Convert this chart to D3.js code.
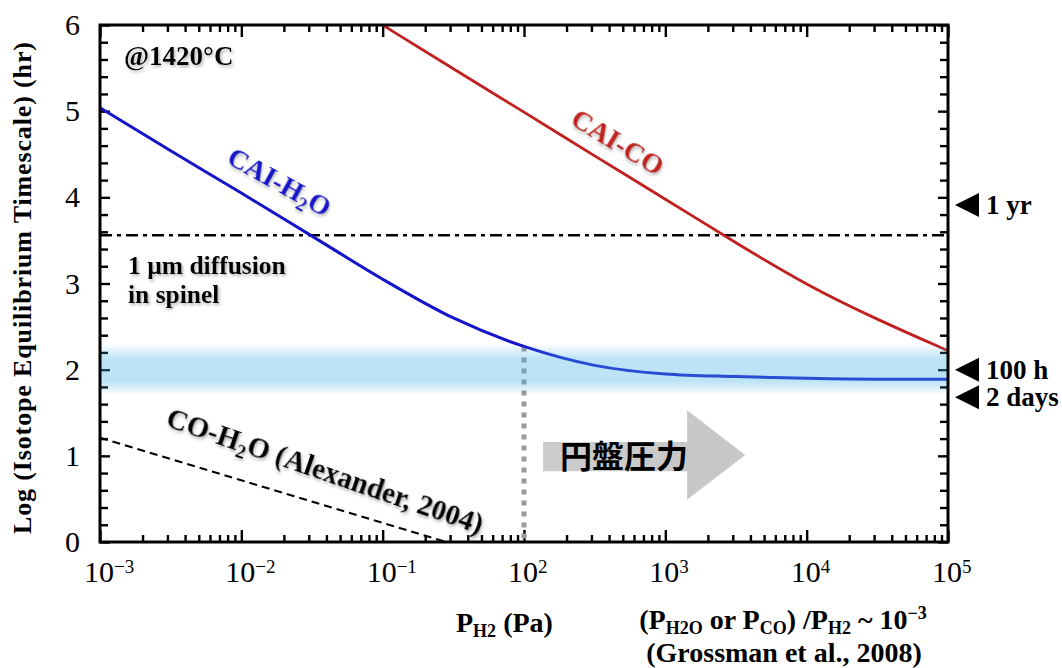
<!DOCTYPE html>
<html>
<head>
<meta charset="utf-8">
<script src="https://cdn.jsdelivr.net/npm/d3@7"></script>
<style>
  html, body { margin: 0; padding: 0; background: #fff; }
  svg { display: block; }
  text { font-family: "Liberation Serif", "Times New Roman", serif; }
</style>
</head>
<body>
<svg id="chart" width="1062" height="668"></svg>
<script>
// ---------------- data ----------------
// x positions are log10 of the axis variable (decade index along the axis)
const logP_H2O = [-3, -2.5, -2, -1.5, -1, -0.5, 0, 0.5, 1, 1.5, 2, 2.5, 3];
const caiH2O   = [5.04, 4.54, 4.05, 3.55, 3.05, 2.60, 2.27, 2.05, 1.95, 1.92, 1.90, 1.89, 1.89];

const logP_CO  = [-1, -0.5, 0, 0.5, 1, 1.5, 2, 2.5, 3];
const caiCO    = [6.00, 5.49, 4.99, 4.48, 3.98, 3.47, 2.98, 2.58, 2.22];

const logP_Alex = [-3, -0.55];
const coH2O     = [1.21, 0.0];

const diffusionSpinel = 3.56;          // 1 µm diffusion in spinel (log hr)
const bandCenter = 2.0, bandHalf = 0.3; // light-blue band
const diskLogP = 0;                    // gray dotted guide position

const xTickLogs  = [-3, -2, -1, 0, 1, 2, 3];
const xTickBase  = ["10", "10", "10", "10", "10", "10", "10"];
const xTickExp   = ["\u22123", "\u22122", "\u22121", "2", "3", "4", "5"];
const yTicks     = [0, 1, 2, 3, 4, 5, 6];

const markerLabels = ["1 yr", "100 h", "2 days"];
const markerValues = [3.91, 2.0, 1.68];

// arrow annotation (in data units)
const arrowLog = { start: 0.135, neck: 1.154, tip: 1.565 };
const arrowVal = { bodyTop: 1.16, bodyBot: 0.82, headTop: 1.53, headBot: 0.49, tip: 1.01 };

// ---------------- layout ----------------
const L = 100, R = 948, T = 25, B = 542;
const svg = d3.select("#chart");

const x = d3.scaleLog().domain([1e-3, 1e3]).range([L, R]);
const y = d3.scaleLinear().domain([0, 6]).range([B, T]);
const xp = lg => x(Math.pow(10, lg));

// defs
const defs = svg.append("defs");
const grad = defs.append("linearGradient").attr("id", "bandGrad")
  .attr("x1", 0).attr("y1", 0).attr("x2", 0).attr("y2", 1);
[[0, 0], [0.28, 0.36], [0.72, 0.36], [1, 0]].forEach(([o, a]) =>
  grad.append("stop").attr("offset", o).attr("stop-color", "#45b2e5").attr("stop-opacity", a));

const shadow = defs.append("filter").attr("id", "shadow")
  .attr("x", "-10%").attr("y", "-30%").attr("width", "130%").attr("height", "170%");
shadow.append("feDropShadow").attr("dx", 1.5).attr("dy", 2).attr("stdDeviation", 1.6)
  .attr("flood-color", "#777").attr("flood-opacity", 0.55);

const arrowGrad = defs.append("linearGradient").attr("id", "arrowGrad")
  .attr("x1", 0).attr("y1", 0).attr("x2", 1).attr("y2", 0);
arrowGrad.append("stop").attr("offset", 0).attr("stop-color", "#cdcdcd");
arrowGrad.append("stop").attr("offset", 1).attr("stop-color", "#c6c6c6");

// ---------------- ticks ----------------
const minorX = [];
for (let e = -3; e < 3; e++) for (let m = 2; m <= 9; m++) minorX.push(m * Math.pow(10, e));
const majorX = xTickLogs.map(d => Math.pow(10, d));
const minorY = d3.range(0, 6.0001, 0.2).map(v => +v.toFixed(1)).filter(v => !yTicks.includes(v));

function styleAxis(g) {
  g.select(".domain").remove();
  g.selectAll("line").attr("stroke", "#000").attr("stroke-width", 2.4);
}
svg.append("g").attr("transform", `translate(0,${B})`)
  .call(d3.axisBottom(x).tickValues(minorX).tickSize(-7).tickFormat("")).call(styleAxis);
svg.append("g").attr("transform", `translate(0,${B})`)
  .call(d3.axisBottom(x).tickValues(majorX).tickSize(-12).tickFormat("")).call(styleAxis);
svg.append("g").attr("transform", `translate(0,${T})`)
  .call(d3.axisTop(x).tickValues(minorX).tickSize(-7).tickFormat("")).call(styleAxis);
svg.append("g").attr("transform", `translate(0,${T})`)
  .call(d3.axisTop(x).tickValues(majorX).tickSize(-12).tickFormat("")).call(styleAxis);
svg.append("g").attr("transform", `translate(${L},0)`)
  .call(d3.axisLeft(y).tickValues(minorY).tickSize(-8).tickFormat("")).call(styleAxis);
svg.append("g").attr("transform", `translate(${L},0)`)
  .call(d3.axisLeft(y).tickValues(yTicks).tickSize(-10).tickFormat("")).call(styleAxis);
svg.append("g").attr("transform", `translate(${R},0)`)
  .call(d3.axisRight(y).tickValues(minorY).tickSize(-8).tickFormat("")).call(styleAxis);
svg.append("g").attr("transform", `translate(${R},0)`)
  .call(d3.axisRight(y).tickValues(yTicks).tickSize(-10).tickFormat("")).call(styleAxis);

// ---------------- reference lines ----------------
svg.append("line")
  .attr("x1", L).attr("x2", R).attr("y1", y(diffusionSpinel)).attr("y2", y(diffusionSpinel))
  .attr("stroke", "#000").attr("stroke-width", 2.4).attr("stroke-dasharray", "12 5 4 5");

const line = d3.line().x(d => xp(d[0])).y(d => y(d[1])).curve(d3.curveMonotoneX);

// CO-H2O dashed
svg.append("path").datum(d3.zip(logP_Alex, coH2O))
  .attr("d", line).attr("fill", "none").attr("stroke", "#000")
  .attr("stroke-width", 2).attr("stroke-dasharray", "8 5");

// gray dotted guide
const blueAtDisk = caiH2O[logP_H2O.indexOf(diskLogP)];
svg.append("line")
  .attr("x1", xp(diskLogP)).attr("x2", xp(diskLogP))
  .attr("y1", y(blueAtDisk)).attr("y2", y(0) - 2)
  .attr("stroke", "#9a9a9a").attr("stroke-width", 5).attr("stroke-dasharray", "5 6");

// curves
svg.append("path").datum(d3.zip(logP_CO, caiCO))
  .attr("d", d3.line().x(d => xp(d[0])).y(d => y(d[1])).curve(d3.curveBasis))
  .attr("fill", "none").attr("stroke", "#c0211f").attr("stroke-width", 2.8);
svg.append("path").datum(d3.zip(logP_H2O, caiH2O))
  .attr("d", line).attr("fill", "none").attr("stroke", "#1414c8").attr("stroke-width", 3);

// band (over the lines, translucent)
svg.append("rect")
  .attr("x", L).attr("width", R - L)
  .attr("y", y(bandCenter + bandHalf)).attr("height", y(bandCenter - bandHalf) - y(bandCenter + bandHalf))
  .attr("fill", "url(#bandGrad)");

// frame
svg.append("rect").attr("x", L).attr("y", T).attr("width", R - L).attr("height", B - T)
  .attr("fill", "none").attr("stroke", "#000").attr("stroke-width", 3);

// ---------------- arrow ----------------
const ap = [
  [arrowLog.start, arrowVal.bodyTop], [arrowLog.neck, arrowVal.bodyTop], [arrowLog.neck, arrowVal.headTop],
  [arrowLog.tip, arrowVal.tip], [arrowLog.neck, arrowVal.headBot], [arrowLog.neck, arrowVal.bodyBot],
  [arrowLog.start, arrowVal.bodyBot]
];
svg.append("path")
  .attr("d", d3.line().x(d => xp(d[0])).y(d => y(d[1])).curve(d3.curveLinearClosed)(ap))
  .attr("fill", "url(#arrowGrad)");
svg.append("text")
  .attr("x", (xp(arrowLog.start) + xp(arrowLog.neck)) / 2 + 9)
  .attr("y", y((arrowVal.bodyTop + arrowVal.bodyBot) / 2) + 11)
  .attr("text-anchor", "middle")
  .style("font-family", '"Noto Sans CJK JP", "Noto Sans CJK SC", sans-serif')
  .style("font-weight", 700).style("font-size", "32px").attr("fill", "#000")
  .text("円盤圧力");

// ---------------- tick labels ----------------
const xl = svg.append("g");
xTickLogs.forEach((lg, i) => {
  const t = xl.append("text").attr("x", xp(lg) - 16).attr("y", 582)
    .style("font-size", "30px").attr("fill", "#000");
  t.append("tspan").text(xTickBase[i]);
  t.append("tspan").attr("dy", -9).style("font-size", "19px").text(xTickExp[i]);
});
svg.append("g").selectAll("text").data(yTicks).join("text")
  .attr("x", 80).attr("y", d => y(d) + 10)
  .attr("text-anchor", "end").style("font-size", "30px").attr("fill", "#000")
  .text(d => d);

// ---------------- axis titles ----------------
svg.append("text")
  .attr("transform", `translate(31,288) rotate(-90)`)
  .attr("text-anchor", "middle").style("font-size", "26px").style("font-weight", 700)
  .attr("textLength", 492).attr("lengthAdjust", "spacing")
  .text("Log (Isotope Equilibrium Timescale) (hr)");

const t1 = svg.append("text").attr("x", 456).attr("y", 632)
  .style("font-size", "28px").style("font-weight", 700);
t1.append("tspan").text("P");
t1.append("tspan").attr("dy", 5).style("font-size", "18px").text("H2");
t1.append("tspan").attr("dy", -5).text(" (Pa)");

const t2 = svg.append("text").attr("x", 783).attr("y", 629).attr("text-anchor", "middle")
  .style("font-size", "28px").style("font-weight", 700);
t2.append("tspan").text("(P");
t2.append("tspan").attr("dy", 5).style("font-size", "18px").text("H2O");
t2.append("tspan").attr("dy", -5).text(" or P");
t2.append("tspan").attr("dy", 5).style("font-size", "18px").text("CO");
t2.append("tspan").attr("dy", -5).text(") /P");
t2.append("tspan").attr("dy", 5).style("font-size", "18px").text("H2");
t2.append("tspan").attr("dy", -5).text(" ~ 10");
t2.append("tspan").attr("dy", -10).style("font-size", "18px").text("\u22123");

svg.append("text").attr("x", 784).attr("y", 662).attr("text-anchor", "middle")
  .style("font-size", "28px").style("font-weight", 700)
  .text("(Grossman et al., 2008)");

// ---------------- annotations ----------------
svg.append("text").attr("x", 124).attr("y", 65)
  .style("font-size", "27px").style("font-weight", 700).attr("filter", "url(#shadow)")
  .text("@1420°C");

svg.append("text").attr("x", 128).attr("y", 274)
  .style("font-size", "25.5px").style("font-weight", 700).attr("filter", "url(#shadow)")
  .text("1 µm diffusion");
svg.append("text").attr("x", 128).attr("y", 303)
  .style("font-size", "25.5px").style("font-weight", 700).attr("filter", "url(#shadow)")
  .text("in spinel");

const lb1 = svg.append("text").attr("transform", "translate(275,190) rotate(29)")
  .attr("text-anchor", "middle").style("font-size", "28px").style("font-weight", 700)
  .attr("fill", "#1414c8").attr("filter", "url(#shadow)");
lb1.append("tspan").text("CAI-H");
lb1.append("tspan").attr("dy", 6).style("font-size", "19px").text("2");
lb1.append("tspan").attr("dy", -6).text("O");

svg.append("text").attr("transform", "translate(613,150) rotate(31)")
  .attr("text-anchor", "middle").style("font-size", "28px").style("font-weight", 700)
  .attr("fill", "#c0211f").attr("filter", "url(#shadow)").text("CAI-CO");

const lb3 = svg.append("text").attr("transform", "translate(322,480) rotate(19)")
  .attr("text-anchor", "middle").style("font-size", "29px").style("font-weight", 700)
  .attr("fill", "#000").attr("filter", "url(#shadow)");
lb3.append("tspan").text("CO-H");
lb3.append("tspan").attr("dy", 6).style("font-size", "19px").text("2");
lb3.append("tspan").attr("dy", -6).text("O (Alexander, 2004)");

// ---------------- right-side markers ----------------
const mk = svg.append("g");
markerValues.forEach((v, i) => {
  const cy = y(v);
  mk.append("path")
    .attr("d", d3.line()([[955, cy], [979, cy - 12], [979, cy + 12]]) + "Z")
    .attr("fill", "#000");
  mk.append("text").attr("x", 986).attr("y", cy + 9)
    .style("font-size", "27px").style("font-weight", 700).text(markerLabels[i]);
});
</script>
</body>
</html>
